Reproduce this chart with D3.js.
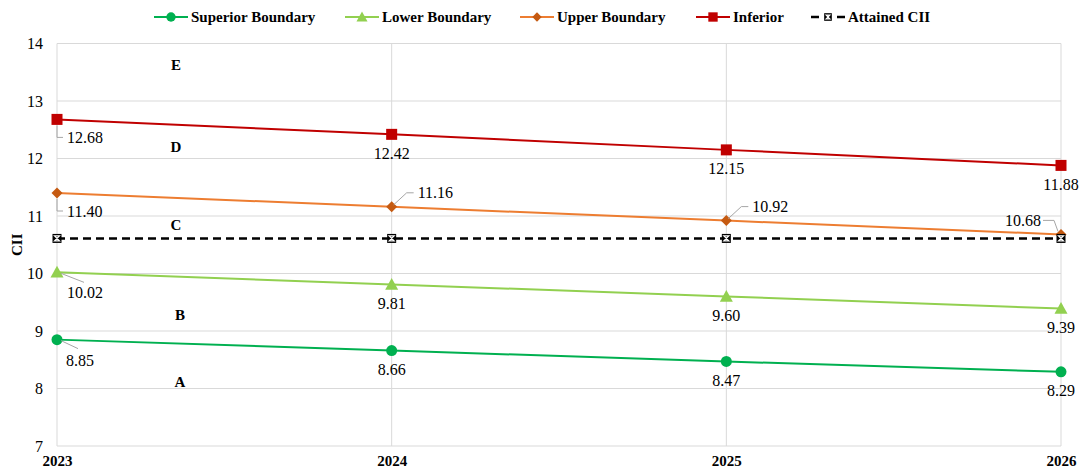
<!DOCTYPE html>
<html>
<head>
<meta charset="utf-8">
<script src="https://cdn.jsdelivr.net/npm/d3@7"></script>
<style>
  body { margin: 0; background: #fff; }
  svg, svg text { font-family: "Liberation Serif", "Times New Roman", Times, Tinos, "DejaVu Serif", serif !important; }
</style>
</head>
<body>
<div id="chart"></div>
<script>
// data
var years = [2023, 2024, 2025, 2026];
var yTicks = [7, 8, 9, 10, 11, 12, 13, 14];
var superior = [8.85, 8.66, 8.47, 8.29];
var lower = [10.02, 9.81, 9.60, 9.39];
var upper = [11.40, 11.16, 10.92, 10.68];
var inferior = [12.68, 12.42, 12.15, 11.88];
var attained = [10.61, 10.61, 10.61, 10.61];
var zoneNames = ["E", "D", "C", "B", "A"];
var zoneLevels = [13.63, 12.2, 10.84, 9.28, 8.11];

var W = 1083, H = 475;
var svg = d3.select("#chart").append("svg")
    .attr("width", W)
    .attr("height", H);

var x = d3.scaleLinear().domain([2023, 2026]).range([57, 1061]);
var y = d3.scaleLinear().domain([7, 14]).range([446, 43.5]);

// gridlines
svg.append("g").selectAll("line.h")
    .data(yTicks).enter().append("line")
    .attr("x1", x(2023)).attr("x2", x(2026))
    .attr("y1", function(d){ return y(d); })
    .attr("y2", function(d){ return y(d); })
    .attr("stroke", "#d9d9d9").attr("stroke-width", 1);

svg.append("g").selectAll("line.v")
    .data(years).enter().append("line")
    .attr("x1", function(d){ return x(d); })
    .attr("x2", function(d){ return x(d); })
    .attr("y1", y(14)).attr("y2", y(7))
    .attr("stroke", "#d9d9d9").attr("stroke-width", 1);

// axes
var yAxis = svg.append("g")
    .attr("transform", "translate(" + x(2023) + ",0)")
    .call(d3.axisLeft(y).tickValues(yTicks).tickFormat(d3.format("d")).tickSize(0).tickPadding(14));
yAxis.select(".domain").remove();
yAxis.attr("font-family", null);
yAxis.selectAll("text").attr("font-size", "16px").attr("fill", "#000");

var xAxis = svg.append("g")
    .attr("transform", "translate(0," + y(7) + ")")
    .call(d3.axisBottom(x).tickValues(years).tickFormat(d3.format("d")).tickSize(0).tickPadding(9));
xAxis.select(".domain").remove();
xAxis.attr("font-family", null);
xAxis.selectAll("text")
    .attr("font-size", "15px").attr("font-weight", "bold").attr("fill", "#000");

svg.append("text")
    .attr("transform", "translate(22," + y(10.5) + ") rotate(-90)")
    .attr("text-anchor", "middle")
    .attr("font-size", "15px").attr("font-weight", "bold")
    .text("CII");

// zone letters
svg.append("g").selectAll("text")
    .data(zoneNames).enter().append("text")
    .attr("x", function(d, i){ return i < 3 ? 176 : 180; })
    .attr("y", function(d, i){ return y(zoneLevels[i]); })
    .attr("dy", "0.35em")
    .attr("text-anchor", "middle")
    .attr("font-size", "15px").attr("font-weight", "bold")
    .text(function(d){ return d; });

var line = d3.line()
    .x(function(d, i){ return x(years[i]); })
    .y(function(d){ return y(d); });

var series = [
  {name: "Superior Boundary", values: superior, color: "#00b050", mcolor: "#00b050", shape: "circle"},
  {name: "Lower Boundary", values: lower, color: "#92d050", mcolor: "#92d050", shape: "triangle"},
  {name: "Upper Boundary", values: upper, color: "#ed7d31", mcolor: "#c55a11", shape: "diamond"},
  {name: "Inferior", values: inferior, color: "#c00000", mcolor: "#c00000", shape: "square"},
  {name: "Attained CII", values: attained, color: "#000", mcolor: "#000", shape: "hatch", dashed: true}
];

function drawMarker(g, shape, color, cx, cy, scale) {
  scale = scale || 1;
  if (shape === "circle") {
    g.append("circle").attr("cx", cx).attr("cy", cy).attr("r", 5.5 * scale).attr("fill", color);
  } else if (shape === "triangle") {
    var s = 6.5 * scale;
    g.append("path")
      .attr("d", "M" + cx + "," + (cy - s) + "L" + (cx + s) + "," + (cy + s * 0.8) + "L" + (cx - s) + "," + (cy + s * 0.8) + "Z")
      .attr("fill", color);
  } else if (shape === "diamond") {
    var d = 5.5 * scale;
    g.append("path")
      .attr("d", "M" + cx + "," + (cy - d) + "L" + (cx + d) + "," + cy + "L" + cx + "," + (cy + d) + "L" + (cx - d) + "," + cy + "Z")
      .attr("fill", color);
  } else if (shape === "square") {
    var q = 5.5 * scale;
    g.append("rect").attr("x", cx - q).attr("y", cy - q).attr("width", 2 * q).attr("height", 2 * q).attr("fill", color);
  } else if (shape === "hatch") {
    var h = 4.5 * scale;
    g.append("rect").attr("x", cx - h).attr("y", cy - h).attr("width", 2 * h).attr("height", 2 * h).attr("fill", "#000");
    g.append("path")
      .attr("d", "M" + (cx - h + 2) + "," + (cy - h + 2) + "L" + (cx + h - 2) + "," + (cy - h + 2) + "L" + (cx - h + 2) + "," + (cy + h - 2) + "L" + (cx + h - 2) + "," + (cy + h - 2) + "Z")
      .attr("fill", "none").attr("stroke", "#fff").attr("stroke-width", 1.2);
  }
}

// lines & markers
series.forEach(function(s) {
  svg.append("path")
    .datum(s.values)
    .attr("d", line)
    .attr("fill", "none")
    .attr("stroke", s.color)
    .attr("stroke-width", s.dashed ? 2.5 : 2)
    .attr("stroke-dasharray", s.dashed ? "8,5" : null);
  var mg = svg.append("g");
  s.values.forEach(function(v, i) {
    drawMarker(mg, s.shape, s.mcolor, x(years[i]), y(v));
  });
});

// data labels (leader lines where the label is moved off the point)
var fmt = d3.format(".2f");
var labelG = svg.append("g").attr("font-size", "16px").attr("fill", "#000");
series.slice(0, 4).forEach(function(s, si) {
  s.values.forEach(function(v, i) {
    var px = x(years[i]), py = y(v);
    var tx = px, ty = py + 19, anchor = "middle", leader = null;
    if (i === 0) {
      anchor = "start"; tx = px + 10;
      if (si >= 2) { ty = py + 18; leader = [[px, py + 6], [px, ty], [px + 6, ty]]; }
      else if (si === 1) { ty = py + 20; leader = [[px + 4, py + 1], [px + 27, py + 10]]; }
      else { ty = py + 21; tx = px + 9; leader = [[px + 4, py + 1], [px + 21, py + 9]]; }
    } else if (si === 2) {
      if (i < 3) {
        anchor = "start"; tx = px + 26; ty = py - 14;
        leader = [[px + 2, py - 2], [px + 15, ty], [px + 22, ty]];
      } else {
        anchor = "end"; tx = px - 20; ty = py - 14;
        leader = [[px - 18, ty], [px - 7, ty], [px - 3, py - 3]];
      }
    }
    if (leader) {
      labelG.append("path")
        .attr("d", d3.line()(leader))
        .attr("fill", "none").attr("stroke", "#a6a6a6").attr("stroke-width", 1);
    }
    labelG.append("text")
      .attr("x", tx).attr("y", ty).attr("dy", "0.35em")
      .attr("text-anchor", anchor)
      .text(fmt(v));
  });
});

// legend
var legendX = [154, 345, 520, 696, 811];
var legend = svg.append("g");
series.forEach(function(s, i) {
  var lx = legendX[i], ly = 17;
  var g = legend.append("g");
  if (s.dashed) {
    g.append("line").attr("x1", lx).attr("x2", lx + 8).attr("y1", ly).attr("y2", ly)
      .attr("stroke", "#000").attr("stroke-width", 2.5);
    g.append("line").attr("x1", lx + 26).attr("x2", lx + 34).attr("y1", ly).attr("y2", ly)
      .attr("stroke", "#000").attr("stroke-width", 2.5);
  } else {
    g.append("line").attr("x1", lx).attr("x2", lx + 34).attr("y1", ly).attr("y2", ly)
      .attr("stroke", s.color).attr("stroke-width", 2);
  }
  drawMarker(g, s.shape, s.mcolor, lx + 17, ly, 0.85);
  g.append("text")
    .attr("x", lx + 37).attr("y", ly).attr("dy", "0.35em")
    .attr("font-size", "15px").attr("font-weight", "bold")
    .text(s.name);
});
</script>
</body>
</html>
